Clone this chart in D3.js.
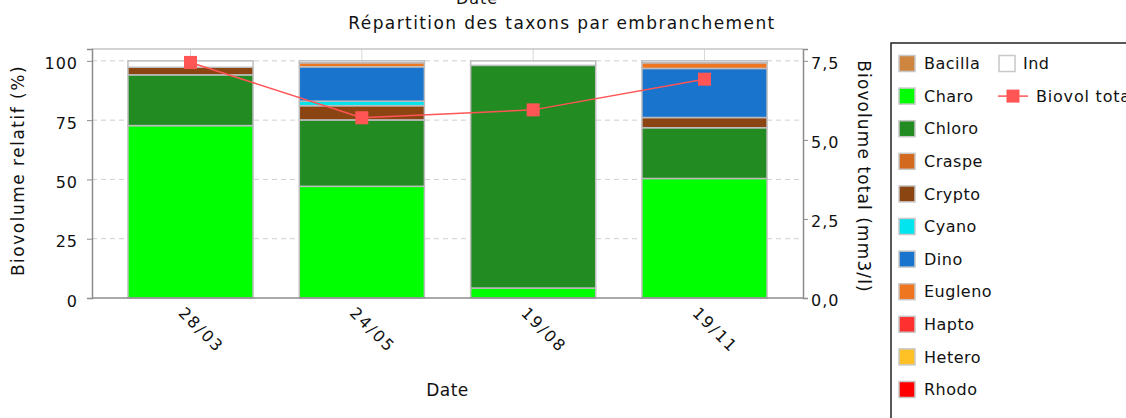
<!DOCTYPE html>
<html>
<head>
<meta charset="utf-8">
<script src="https://cdn.jsdelivr.net/npm/d3@7"></script>
<style>
  body { margin: 0; background: #fff; }
  svg text { font-family: "DejaVu Sans", sans-serif; fill: #111; }
</style>
</head>
<body>
<div id="chart"></div>
<script>
// dates (categories)
const dates = ['28/03', '24/05', '19/08', '19/11'];
// taxa, in stacking / legend order
const taxa = ['Bacilla', 'Charo', 'Chloro', 'Craspe', 'Crypto', 'Cyano', 'Dino',
              'Eugleno', 'Hapto', 'Hetero', 'Rhodo', 'Ind'];
const taxaColors = ['#CD853F', '#00FF00', '#228B22', '#D2691E', '#8B4513', '#00E5EE',
                    '#1874CD', '#EE7621', '#FF3030', '#FFC125', '#FF0000', '#FFFFFF'];

// relative biovolume (%) per taxon, one value per date
const bacilla = [0, 0, 0, 0];
const charo   = [72.7, 47.1, 4.2, 50.4];
const chloro  = [21.4, 28.0, 93.9, 21.4];
const craspe  = [0, 0, 0, 0];
const crypto  = [3.2, 6.0, 0, 4.3];
const cyano   = [0, 1.9, 0, 0];
const dino    = [0, 14.5, 0, 20.7];
const eugleno = [0, 1.7, 0, 2.4];
const hapto   = [0, 0, 0, 0];
const hetero  = [0, 0, 0, 0];
const rhodo   = [0, 0, 0, 0];
const ind     = [2.7, 0.8, 1.9, 0.8];

// total biovolume (mm3/l)
const biovolTotal = [7.45, 5.70, 5.95, 6.92];

const leftTicks = [0, 25, 50, 75, 100];
const rightTicks = [0, 2.5, 5, 7.5];

const series = [bacilla, charo, chloro, craspe, crypto, cyano, dino,
                eugleno, hapto, hetero, rhodo, ind];

const width = 1126, height = 418;
const plot = {left: 92, right: 803, top: 49, bottom: 298};

const svg = d3.select('#chart').append('svg')
    .attr('width', width)
    .attr('height', height);

// build table for d3.stack
const table = dates.map((d, i) => {
    let row = {date: d};
    taxa.forEach((t, j) => row[t] = series[j][i]);
    return row;
});
const stacked = d3.stack().keys(taxa)(table);

const x = d3.scaleBand()
    .domain(dates)
    .range([plot.left, plot.right])
    .paddingInner(0.27)
    .paddingOuter(0.21);
const y = d3.scaleLinear().domain([0, 105]).range([plot.bottom, plot.top]);
const y2 = d3.scaleLinear().domain([0, 7.875]).range([plot.bottom, plot.top]);

// titles
svg.append('text')
    .attr('x', 477).attr('y', 4)
    .attr('text-anchor', 'middle')
    .style('font-size', '16px')
    .style('letter-spacing', '1px')
    .text('Date');
svg.append('text')
    .attr('x', 562).attr('y', 29)
    .attr('text-anchor', 'middle')
    .style('font-size', '17px')
    .style('letter-spacing', '1.4px')
    .text('Répartition des taxons par embranchement');

// gridlines
svg.append('g').selectAll('line.hgrid')
    .data(leftTicks.filter(v => v > 0))
    .enter().append('line')
        .attr('x1', plot.left).attr('x2', plot.right)
        .attr('y1', d => y(d)).attr('y2', d => y(d))
        .attr('stroke', '#cfcfcf')
        .attr('stroke-dasharray', '5,4');
svg.append('g').selectAll('line.vgrid')
    .data(dates)
    .enter().append('line')
        .attr('x1', d => x(d) + x.bandwidth() / 2)
        .attr('x2', d => x(d) + x.bandwidth() / 2)
        .attr('y1', plot.top).attr('y2', plot.bottom)
        .attr('stroke', '#d8d8d8');

// plot outline (top)
svg.append('line')
    .attr('x1', plot.left).attr('x2', plot.right)
    .attr('y1', plot.top).attr('y2', plot.top)
    .attr('stroke', '#c4c4c4').attr('stroke-width', 1.5);

// stacked bars
svg.append('g').selectAll('g.layer')
    .data(stacked)
    .enter().append('g')
        .attr('fill', (d, i) => taxaColors[i])
    .selectAll('rect')
    .data(d => d.filter(s => s[1] - s[0] > 0))
    .enter().append('rect')
        .attr('x', d => x(d.data.date))
        .attr('y', d => y(d[1]))
        .attr('width', x.bandwidth())
        .attr('height', d => y(d[0]) - y(d[1]))
        .attr('stroke', '#bdbdbd')
        .attr('stroke-width', 1.5);

// axes
const axisLeft = svg.append('g')
    .attr('transform', 'translate(' + plot.left + ',0)')
    .call(d3.axisLeft(y).tickValues(leftTicks).tickSize(5).tickPadding(9));
const axisRight = svg.append('g')
    .attr('transform', 'translate(' + plot.right + ',0)')
    .call(d3.axisRight(y2).tickValues(rightTicks).tickSize(5).tickPadding(3)
        .tickFormat(d => d3.format('.1f')(d).replace('.', ',')));
const axisBottom = svg.append('g')
    .attr('transform', 'translate(0,' + plot.bottom + ')')
    .call(d3.axisBottom(x).tickSize(0).tickSizeOuter(0));

[axisLeft, axisRight, axisBottom].forEach(a => {
    a.select('.domain').attr('stroke', '#8c8c8c').attr('stroke-width', 1.5);
    a.selectAll('.tick line').attr('stroke', '#8c8c8c');
    a.selectAll('text').style('font-size', '16px').attr('fill', '#111')
        .style('letter-spacing', '1px')
        .style('font-family', '"DejaVu Sans", sans-serif');
});
axisLeft.selectAll('text').attr('dy', '0.5em');
axisRight.selectAll('text').attr('dy', '0.45em');
axisBottom.select('.domain').attr('d', 'M' + plot.left + ',0H' + plot.right);
axisBottom.selectAll('.tick text')
    .attr('text-anchor', 'start')
    .attr('y', 0).attr('dy', 0)
    .style('letter-spacing', '2px')
    .attr('transform', 'translate(-13,16) rotate(45)');

// axis labels
svg.append('text')
    .attr('transform', 'translate(23.5,' + ((plot.top + plot.bottom) / 2 - 3) + ') rotate(-90)')
    .attr('text-anchor', 'middle')
    .style('font-size', '17px')
    .style('letter-spacing', '1.5px')
    .text('Biovolume relatif (%)');
svg.append('text')
    .attr('transform', 'translate(858,' + ((plot.top + plot.bottom) / 2 + 3) + ') rotate(90)')
    .attr('text-anchor', 'middle')
    .style('font-size', '17px')
    .style('letter-spacing', '1.1px')
    .text('Biovolume total (mm3/l)');
svg.append('text')
    .attr('x', (plot.left + plot.right) / 2).attr('y', 396)
    .attr('text-anchor', 'middle')
    .style('font-size', '17px')
    .style('letter-spacing', '0.5px')
    .text('Date');

// total biovolume line
const cx = d => x(d) + x.bandwidth() / 2;
const lineData = dates.map((d, i) => ({date: d, v: biovolTotal[i]}));
svg.append('path')
    .datum(lineData)
    .attr('fill', 'none')
    .attr('stroke', '#FF5555')
    .attr('stroke-width', 1.5)
    .attr('d', d3.line().x(d => cx(d.date)).y(d => y2(d.v)));
svg.append('g').selectAll('rect.marker')
    .data(lineData)
    .enter().append('rect')
        .attr('x', d => cx(d.date) - 6.5)
        .attr('y', d => y2(d.v) - 6.5)
        .attr('width', 13).attr('height', 13)
        .attr('fill', '#FF5555');

// legend
const legend = svg.append('g');
legend.append('rect')
    .attr('x', 891).attr('y', 43)
    .attr('width', 260).attr('height', 400)
    .attr('fill', '#fff')
    .attr('stroke', '#222').attr('stroke-width', 1.5);

const col1 = taxa.slice(0, 11);
const rowY = i => 63.5 + i * 32.6;
const item = legend.selectAll('g.item')
    .data(col1)
    .enter().append('g')
        .attr('transform', (d, i) => 'translate(899,' + rowY(i) + ')');
item.append('rect')
    .attr('x', 0).attr('y', -8).attr('width', 16).attr('height', 16)
    .attr('fill', (d, i) => taxaColors[i])
    .attr('stroke', '#c8c8c8').attr('stroke-width', 1.5);
item.append('text')
    .attr('x', 25).attr('dy', '0.36em')
    .style('font-size', '16px')
    .style('letter-spacing', '0.5px')
    .text(d => d);

// second column: Ind and the line
const indItem = legend.append('g').attr('transform', 'translate(999,' + rowY(0) + ')');
indItem.append('rect')
    .attr('x', 0).attr('y', -8).attr('width', 16).attr('height', 16)
    .attr('fill', taxaColors[11])
    .attr('stroke', '#c8c8c8').attr('stroke-width', 1.5);
indItem.append('text')
    .attr('x', 24).attr('dy', '0.36em')
    .style('font-size', '16px')
    .style('letter-spacing', '0.5px')
    .text(taxa[11]);

const lineItem = legend.append('g').attr('transform', 'translate(998,' + rowY(1) + ')');
lineItem.append('line')
    .attr('x1', 0).attr('x2', 30).attr('y1', 0).attr('y2', 0)
    .attr('stroke', '#FF5555').attr('stroke-width', 1.5);
lineItem.append('rect')
    .attr('x', 8.5).attr('y', -6.5).attr('width', 13).attr('height', 13)
    .attr('fill', '#FF5555');
lineItem.append('text')
    .attr('x', 38).attr('dy', '0.36em')
    .style('font-size', '16px')
    .style('letter-spacing', '0.8px')
    .text('Biovol total');
</script>
</body>
</html>
